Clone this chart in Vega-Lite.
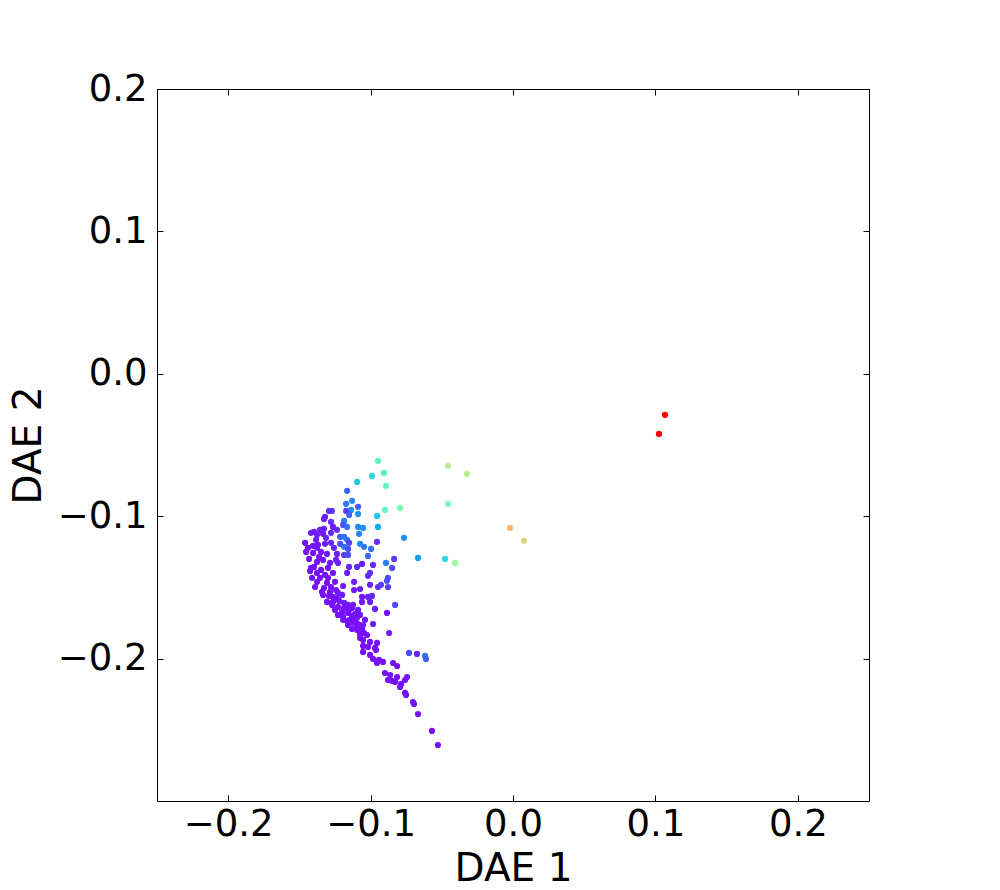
{
"$schema": "https://vega.github.io/schema/vega-lite/v6.json",
"width": 712, "height": 712,
"autosize": {"type": "none"},
"padding": {"left": 157, "top": 89, "right": 131, "bottom": 89},
"background": "white",
"config": {
 "view": {"stroke": "black", "strokeWidth": 1},
 "axis": {"labelFont": "DejaVu Sans", "titleFont": "DejaVu Sans", "labelFontSize": 37, "titleFontSize": 39, "labelColor": "black", "titleColor": "black", "tickColor": "black", "tickWidth": 1, "domain": false, "grid": false, "tickSize": -6, "titleFontWeight": "normal", "labelFlush": false, "labelOverlap": false}
},
"data": {"values": [
{"x":0.1067,"y":-0.0288,"c":1},{"x":0.1025,"y":-0.0422,"c":1},
{"x":-0.0021,"y":-0.1082,"c":0.75},{"x":0.0077,"y":-0.1173,"c":0.67},
{"x":-0.0456,"y":-0.0646,"c":0.62},{"x":-0.0323,"y":-0.0703,"c":0.62},
{"x":-0.0456,"y":-0.0913,"c":0.48},{"x":-0.0793,"y":-0.0941,"c":0.48},
{"x":-0.0477,"y":-0.13,"c":0.33},{"x":-0.0407,"y":-0.1328,"c":0.56},
{"x":-0.0765,"y":-0.1152,"c":0.2},{"x":-0.0667,"y":-0.1293,"c":0.22},
{"x":-0.0948,"y":-0.0611,"c":0.44},{"x":-0.0906,"y":-0.0696,"c":0.42},
{"x":-0.099,"y":-0.0717,"c":0.33},{"x":-0.0892,"y":-0.0787,"c":0.43},
{"x":-0.1095,"y":-0.0759,"c":0.3},{"x":-0.1165,"y":-0.0822,"c":0.12},
{"x":-0.113,"y":-0.0892,"c":0.18},{"x":-0.1172,"y":-0.0913,"c":0.15},
{"x":-0.1088,"y":-0.0934,"c":0.12},{"x":-0.0899,"y":-0.0956,"c":0.44},
{"x":-0.1137,"y":-0.0956,"c":0.2},{"x":-0.1172,"y":-0.0963,"c":0.08},
{"x":-0.1151,"y":-0.0991,"c":0.12},{"x":-0.1088,"y":-0.0984,"c":0.2},
{"x":-0.0955,"y":-0.0998,"c":0.3},{"x":-0.1271,"y":-0.0963,"c":0.08},
{"x":-0.1292,"y":-0.0963,"c":0.06},{"x":-0.132,"y":-0.1005,"c":0.05},
{"x":-0.1327,"y":-0.1019,"c":0.04},{"x":-0.1278,"y":-0.104,"c":0.06},
{"x":-0.1186,"y":-0.1033,"c":0.17},{"x":-0.1193,"y":-0.1061,"c":0.1},
{"x":-0.1165,"y":-0.1075,"c":0.15},{"x":-0.1088,"y":-0.1075,"c":0.18},
{"x":-0.1053,"y":-0.1082,"c":0.2},{"x":-0.0948,"y":-0.1075,"c":0.24},
{"x":-0.1264,"y":-0.1075,"c":0.03},{"x":-0.1327,"y":-0.1089,"c":0.04},
{"x":-0.1355,"y":-0.1096,"c":0.04},{"x":-0.1397,"y":-0.111,"c":0.04},
{"x":-0.1418,"y":-0.1117,"c":0.03},{"x":-0.1376,"y":-0.1131,"c":0.03},
{"x":-0.1334,"y":-0.1124,"c":0.03},{"x":-0.1278,"y":-0.1117,"c":0.05},
{"x":-0.1214,"y":-0.1145,"c":0.12},{"x":-0.1186,"y":-0.1145,"c":0.15},
{"x":-0.1165,"y":-0.1166,"c":0.15},{"x":-0.1081,"y":-0.1124,"c":0.18},
{"x":-0.0955,"y":-0.118,"c":0.05},{"x":-0.146,"y":-0.1187,"c":0.02},
{"x":-0.1404,"y":-0.1208,"c":0.02},{"x":-0.1369,"y":-0.1201,"c":0.03},
{"x":-0.132,"y":-0.1194,"c":0.04},{"x":-0.1278,"y":-0.1187,"c":0.05},
{"x":-0.1214,"y":-0.1194,"c":0.1},{"x":-0.1186,"y":-0.1215,"c":0.15},
{"x":-0.1151,"y":-0.1187,"c":0.08},{"x":-0.1074,"y":-0.1194,"c":0.18},
{"x":-0.1046,"y":-0.1215,"c":0.16},{"x":-0.0997,"y":-0.123,"c":0.14},
{"x":-0.1158,"y":-0.123,"c":0.1},{"x":-0.1404,"y":-0.1258,"c":0.02},
{"x":-0.1348,"y":-0.1251,"c":0.02},{"x":-0.1306,"y":-0.1265,"c":0.03},
{"x":-0.1236,"y":-0.1265,"c":0.04},{"x":-0.1186,"y":-0.1272,"c":0.08},
{"x":-0.1158,"y":-0.1272,"c":0.1},{"x":-0.1018,"y":-0.1279,"c":0.14},
{"x":-0.0835,"y":-0.13,"c":0.08},{"x":-0.1432,"y":-0.13,"c":0.02},
{"x":-0.1376,"y":-0.1321,"c":0.02},{"x":-0.1334,"y":-0.1307,"c":0.03},
{"x":-0.1285,"y":-0.1328,"c":0.03},{"x":-0.1229,"y":-0.1328,"c":0.05},
{"x":-0.1151,"y":-0.1356,"c":0.05},{"x":-0.1095,"y":-0.1356,"c":0.06},
{"x":-0.106,"y":-0.1335,"c":0.03},{"x":-0.0983,"y":-0.1342,"c":0.06},
{"x":-0.0892,"y":-0.1328,"c":0.17},{"x":-0.0849,"y":-0.1363,"c":0.1},
{"x":-0.1418,"y":-0.1363,"c":0.02},{"x":-0.1425,"y":-0.1384,"c":0.02},
{"x":-0.1376,"y":-0.1398,"c":0.02},{"x":-0.132,"y":-0.1412,"c":0.02},
{"x":-0.1264,"y":-0.1398,"c":0.03},{"x":-0.1165,"y":-0.1398,"c":0.04},
{"x":-0.1004,"y":-0.1398,"c":0.06},{"x":-0.1018,"y":-0.1419,"c":0.05},
{"x":-0.0878,"y":-0.1433,"c":0.1},{"x":-0.0885,"y":-0.1454,"c":0.1},
{"x":-0.1411,"y":-0.1433,"c":0.02},{"x":-0.1376,"y":-0.1461,"c":0.02},
{"x":-0.1306,"y":-0.1468,"c":0.02},{"x":-0.125,"y":-0.1461,"c":0.03},
{"x":-0.1193,"y":-0.149,"c":0.03},{"x":-0.1116,"y":-0.1461,"c":0.04},
{"x":-0.1004,"y":-0.1482,"c":0.04},{"x":-0.0948,"y":-0.1497,"c":0.06},
{"x":-0.0927,"y":-0.1482,"c":0.08},{"x":-0.0878,"y":-0.1497,"c":0.08},
{"x":-0.139,"y":-0.1497,"c":0.02},{"x":-0.1341,"y":-0.1532,"c":0.02},
{"x":-0.1285,"y":-0.1532,"c":0.02},{"x":-0.1229,"y":-0.1539,"c":0.03},
{"x":-0.12,"y":-0.1553,"c":0.03},{"x":-0.1116,"y":-0.1518,"c":0.03},
{"x":-0.1074,"y":-0.1511,"c":0.04},{"x":-0.1334,"y":-0.1553,"c":0.02},
{"x":-0.1264,"y":-0.1567,"c":0.02},{"x":-0.106,"y":-0.1567,"c":0.03},
{"x":-0.1018,"y":-0.1567,"c":0.04},{"x":-0.099,"y":-0.156,"c":0.05},
{"x":-0.1306,"y":-0.1602,"c":0.02},{"x":-0.1264,"y":-0.1602,"c":0.02},
{"x":-0.1221,"y":-0.1595,"c":0.03},{"x":-0.1271,"y":-0.1623,"c":0.02},
{"x":-0.1229,"y":-0.1637,"c":0.02},{"x":-0.1158,"y":-0.1623,"c":0.03},
{"x":-0.1123,"y":-0.1623,"c":0.03},{"x":-0.106,"y":-0.1602,"c":0.03},
{"x":-0.1004,"y":-0.1602,"c":0.04},{"x":-0.0828,"y":-0.1623,"c":0.1},
{"x":-0.125,"y":-0.1658,"c":0.02},{"x":-0.12,"y":-0.1672,"c":0.02},
{"x":-0.113,"y":-0.1644,"c":0.03},{"x":-0.1088,"y":-0.1658,"c":0.03},
{"x":-0.0969,"y":-0.1651,"c":0.04},{"x":-0.1229,"y":-0.1693,"c":0.02},
{"x":-0.1193,"y":-0.1707,"c":0.02},{"x":-0.1158,"y":-0.1679,"c":0.02},
{"x":-0.1109,"y":-0.1686,"c":0.03},{"x":-0.1074,"y":-0.1693,"c":0.03},
{"x":-0.0885,"y":-0.1679,"c":0.02},{"x":-0.1193,"y":-0.1728,"c":0.02},
{"x":-0.1144,"y":-0.1728,"c":0.02},{"x":-0.1095,"y":-0.1714,"c":0.03},
{"x":-0.1039,"y":-0.1728,"c":0.03},{"x":-0.1158,"y":-0.1764,"c":0.02},
{"x":-0.1123,"y":-0.1749,"c":0.02},{"x":-0.1095,"y":-0.1778,"c":0.02},
{"x":-0.1053,"y":-0.1764,"c":0.03},{"x":-0.0983,"y":-0.1757,"c":0.03},
{"x":-0.113,"y":-0.1792,"c":0.02},{"x":-0.1095,"y":-0.1799,"c":0.02},
{"x":-0.106,"y":-0.1792,"c":0.02},{"x":-0.087,"y":-0.182,"c":0.03},
{"x":-0.1074,"y":-0.1827,"c":0.02},{"x":-0.1025,"y":-0.1834,"c":0.02},
{"x":-0.1074,"y":-0.1855,"c":0.02},{"x":-0.1053,"y":-0.1869,"c":0.02},
{"x":-0.1004,"y":-0.1883,"c":0.02},{"x":-0.0955,"y":-0.189,"c":0.02},
{"x":-0.1053,"y":-0.1911,"c":0.02},{"x":-0.1018,"y":-0.1918,"c":0.02},
{"x":-0.0969,"y":-0.1925,"c":0.02},{"x":-0.1053,"y":-0.1953,"c":0.02},
{"x":-0.1004,"y":-0.1974,"c":0.02},{"x":-0.0962,"y":-0.1939,"c":0.02},
{"x":-0.0983,"y":-0.2002,"c":0.02},{"x":-0.0941,"y":-0.2009,"c":0.02},
{"x":-0.0913,"y":-0.2023,"c":0.02},{"x":-0.0955,"y":-0.2031,"c":0.02},
{"x":-0.073,"y":-0.196,"c":0.1},{"x":-0.0674,"y":-0.1967,"c":0.05},
{"x":-0.0618,"y":-0.1981,"c":0.15},{"x":-0.0611,"y":-0.2002,"c":0.12},
{"x":-0.0842,"y":-0.2031,"c":0.02},{"x":-0.0814,"y":-0.2052,"c":0.02},
{"x":-0.0899,"y":-0.2101,"c":0.02},{"x":-0.0863,"y":-0.2115,"c":0.02},
{"x":-0.0814,"y":-0.2129,"c":0.02},{"x":-0.0744,"y":-0.2129,"c":0.03},
{"x":-0.0878,"y":-0.215,"c":0.02},{"x":-0.0828,"y":-0.2164,"c":0.02},
{"x":-0.0793,"y":-0.2199,"c":0.02},{"x":-0.0758,"y":-0.215,"c":0.02},
{"x":-0.0849,"y":-0.2157,"c":0.02},{"x":-0.0786,"y":-0.2178,"c":0.02},
{"x":-0.0758,"y":-0.2241,"c":0.02},{"x":-0.0751,"y":-0.2255,"c":0.02},
{"x":-0.0702,"y":-0.2305,"c":0.02},{"x":-0.0695,"y":-0.2319,"c":0.02},
{"x":-0.0667,"y":-0.2389,"c":0.02},{"x":-0.0569,"y":-0.2508,"c":0.02},
{"x":-0.0527,"y":-0.2607,"c":0.02},
{"x":-0.1453,"y":-0.1251,"c":0.02},{"x":-0.1439,"y":-0.1222,"c":0.02},
{"x":-0.1383,"y":-0.1166,"c":0.03},{"x":-0.1362,"y":-0.1286,"c":0.02},
{"x":-0.1397,"y":-0.1356,"c":0.02},{"x":-0.1348,"y":-0.1377,"c":0.02},
{"x":-0.1299,"y":-0.1363,"c":0.03},{"x":-0.1355,"y":-0.1433,"c":0.02},
{"x":-0.1299,"y":-0.1433,"c":0.02},{"x":-0.1327,"y":-0.1504,"c":0.02},
{"x":-0.1278,"y":-0.1497,"c":0.02},{"x":-0.1243,"y":-0.1518,"c":0.03},
{"x":-0.1292,"y":-0.156,"c":0.02},{"x":-0.1236,"y":-0.1581,"c":0.02},
{"x":-0.1186,"y":-0.1609,"c":0.03},{"x":-0.1186,"y":-0.1644,"c":0.02},
{"x":-0.1151,"y":-0.1658,"c":0.02},{"x":-0.113,"y":-0.17,"c":0.02},
{"x":-0.1165,"y":-0.1735,"c":0.02},{"x":-0.1109,"y":-0.1735,"c":0.02},
{"x":-0.1088,"y":-0.1757,"c":0.02},{"x":-0.1046,"y":-0.182,"c":0.02},
{"x":-0.1376,"y":-0.1222,"c":0.03},{"x":-0.1257,"y":-0.1222,"c":0.05},
{"x":-0.1243,"y":-0.1307,"c":0.04},{"x":-0.1313,"y":-0.1152,"c":0.04},
{"x":-0.1236,"y":-0.1096,"c":0.06}
]},
"layer": [
 {"mark": {"type": "circle", "size": 38, "opacity": 1},
  "encoding": {
   "x": {"field": "x", "type": "quantitative", "scale": {"domain": [-0.25, 0.25], "nice": false, "zero": false},
     "axis": {"orient": "bottom", "values": [-0.2, -0.1, 0, 0.1, 0.2], "labelExpr": "replace(format(datum.value, '.1f'), '-', '\u2212')", "title": "DAE 1", "labelPadding": 11, "titleY": 79, "titleBaseline": "alphabetic"}},
   "y": {"field": "y", "type": "quantitative", "scale": {"domain": [-0.3, 0.2], "nice": false, "zero": false},
     "axis": {"orient": "left", "values": [-0.2, -0.1, 0, 0.1, 0.2], "labelExpr": "replace(format(datum.value, '.1f'), '-', '\u2212')", "title": "DAE 2", "labelPadding": 16, "titleX": -117, "titleY": 356, "titleBaseline": "alphabetic"}},
   "color": {"field": "c", "type": "quantitative", "legend": null,
     "scale": {"domain": [0, 0.125, 0.25, 0.375, 0.5, 0.625, 0.75, 0.875, 1], "range": ["#8000ff", "#4062fa", "#00b5eb", "#40ebd4", "#80ffb4", "#c0eb8e", "#ffb462", "#ff6232", "#ff0000"], "interpolate": "rgb"}}
  }},
 {"mark": {"type": "circle", "opacity": 0},
  "encoding": {
   "x": {"field": "x", "type": "quantitative", "scale": {"domain": [-0.25, 0.25], "nice": false, "zero": false},
     "axis": {"orient": "top", "values": [-0.2, -0.1, 0, 0.1, 0.2], "labels": false, "title": null}},
   "y": {"field": "y", "type": "quantitative", "scale": {"domain": [-0.3, 0.2], "nice": false, "zero": false},
     "axis": {"orient": "right", "values": [-0.2, -0.1, 0, 0.1, 0.2], "labels": false, "title": null}}
  }}
],
"resolve": {"axis": {"x": "independent", "y": "independent"}}
}
